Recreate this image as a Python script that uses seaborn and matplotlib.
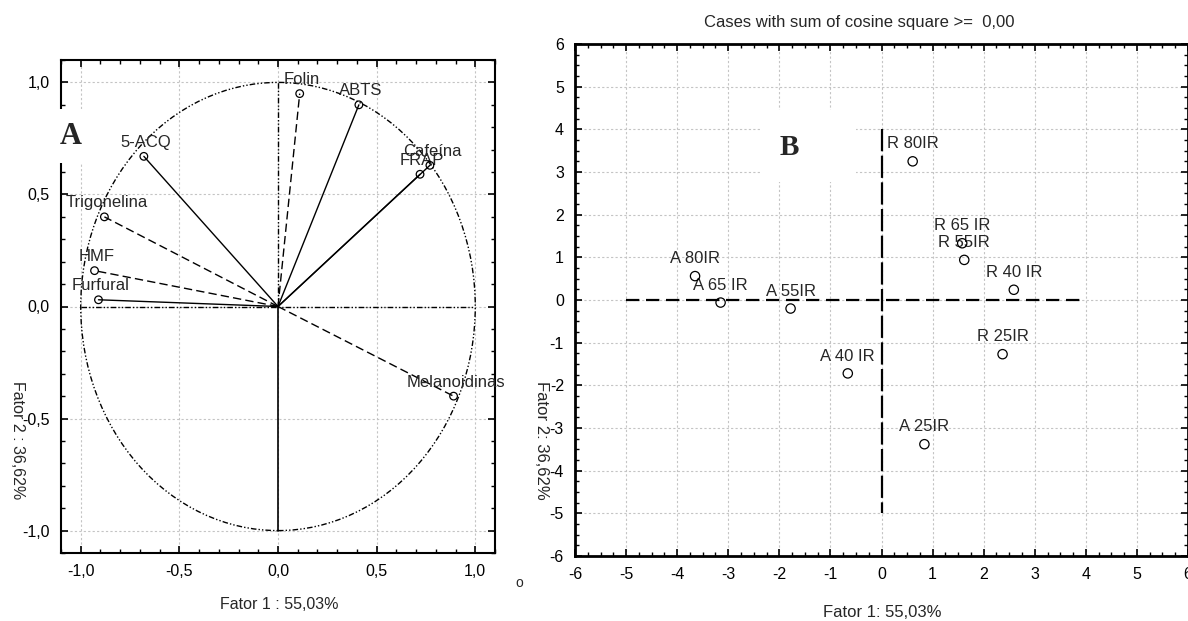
import matplotlib
matplotlib.use('Agg')
import matplotlib.pyplot as plt
import seaborn as sns
from matplotlib.patches import Circle, Rectangle
from matplotlib.ticker import MultipleLocator, FuncFormatter

# --- Painel A: cargas das variaveis (circulo de correlacao) ---
variaveis = ['Folin', 'ABTS', 'Cafeína', 'FRAP', '5-ACQ', 'Trigonelina', 'HMF', 'Furfural', 'Melanoidinas']
fator1_var = [0.11, 0.41, 0.77, 0.72, -0.68, -0.88, -0.93, -0.91, 0.89]
fator2_var = [0.95, 0.90, 0.63, 0.59, 0.67, 0.40, 0.16, 0.03, -0.40]
estilo_var = ['--', '-', '-', '-', '-', '--', '--', '-', '--']

# --- Painel B: escores das amostras ---
amostras = ['R 80IR', 'R 65 IR', 'R 55IR', 'R 40 IR', 'R 25IR',
            'A 80IR', 'A 65 IR', 'A 55IR', 'A 40 IR', 'A 25IR']
fator1_amo = [0.61, 1.58, 1.62, 2.59, 2.37, -3.65, -3.15, -1.78, -0.66, 0.84]
fator2_amo = [3.25, 1.33, 0.94, 0.24, -1.27, 0.56, -0.06, -0.20, -1.72, -3.38]

sns.set_theme(style='white')
plt.rcParams['font.family'] = ['Liberation Sans', 'DejaVu Sans']
plt.rcParams['axes.unicode_minus'] = False

W, H = 1188, 621
fig = plt.figure(figsize=(W / 100, H / 100), dpi=100)
ax1 = fig.add_axes([61 / W, 1 - 553 / H, 434 / W, 493 / H])
ax2 = fig.add_axes([575 / W, 1 - 556 / H, 613 / W, 512 / H])

virgula = FuncFormatter(lambda v, p: ('%.1f' % (0.0 if abs(v) < 1e-9 else v)).replace('.', ','))
dash_dot_dot = (0, (4, 1.5, 1, 1.5, 1, 1.5))


def estilo_eixo(ax, major, minor, lw):
    ax.xaxis.set_major_locator(MultipleLocator(major))
    ax.yaxis.set_major_locator(MultipleLocator(major))
    ax.xaxis.set_minor_locator(MultipleLocator(minor))
    ax.yaxis.set_minor_locator(MultipleLocator(minor))
    ax.tick_params(which='both', direction='in', top=True, right=True,
                   bottom=True, left=True, colors='black', labelsize=11.5, pad=8)
    ax.tick_params(which='major', length=5, width=1.2)
    ax.tick_params(which='minor', length=3, width=1)
    ax.grid(True, which='major', color='#c4c4c4', linestyle=(0, (2, 2)), linewidth=0.8)
    ax.set_axisbelow(True)
    for s in ax.spines.values():
        s.set_color('black')
        s.set_linewidth(lw)


# ---------- Painel A ----------
ax1.set_xlim(-1.1, 1.1)
ax1.set_ylim(-1.1, 1.1)
estilo_eixo(ax1, 0.5, 0.1, 1.5)
ax1.xaxis.set_major_formatter(virgula)
ax1.yaxis.set_major_formatter(virgula)

ax1.add_patch(Circle((0, 0), 1, fill=False, color='black', lw=1.0, linestyle=dash_dot_dot))
ax1.plot([-1, 1], [0, 0], color='black', lw=1.0, linestyle=dash_dot_dot)
ax1.plot([0, 0], [0, 1], color='black', lw=1.0, linestyle=dash_dot_dot)
ax1.plot([0, 0], [0, -1], color='black', lw=1.2)

for x, y, ls in zip(fator1_var, fator2_var, estilo_var):
    ax1.plot([0, x], [0, y], color='black', lw=1.0, linestyle=ls,
             dashes=(6, 3) if ls == '--' else (None, None))

sns.scatterplot(x=fator1_var, y=fator2_var, ax=ax1, marker='o', s=30,
                color='none', edgecolor='black', linewidth=0.9, zorder=4)
for nome, x, y in zip(variaveis, fator1_var, fator2_var):
    ax1.annotate(nome, (x, y), xytext=(1.5, 10), textcoords='offset points',
                 ha='center', va='center', fontsize=12)

ax1.set_xlabel('Fator 1 : 55,03%', fontsize=11.5, va='center')
ax1.set_ylabel('Fator 2 : 36,62%', fontsize=11.5, rotation=270, va='center', ha='center')
ax1.xaxis.set_label_coords(0.502, -0.105)
ax1.yaxis.set_label_coords(-0.10, 0.229)

ax1.text(0.022, 0.845, 'A', transform=ax1.transAxes, ha='center', va='center',
         fontsize=22, fontweight='bold', family='Liberation Serif', zorder=5,
         bbox=dict(facecolor='white', edgecolor='none', pad=9), clip_on=False)

# ---------- Painel B ----------
ax2.set_xlim(-6, 6)
ax2.set_ylim(-6, 6)
estilo_eixo(ax2, 1, 0.25, 2)

ax2.add_patch(Rectangle((0.301, 0.730), 0.158, 0.141, transform=ax2.transAxes,
                        facecolor='white', edgecolor='none', zorder=1))
ax2.text(0.349, 0.797, 'B', transform=ax2.transAxes, ha='center', va='center',
         fontsize=21, fontweight='bold', family='Liberation Serif', zorder=2)

ax2.plot([-5, 4], [0, 0], color='black', lw=1.6, dashes=(6, 3))
ax2.plot([0, 0], [4, -5], color='black', lw=1.6, dashes=(10, 2))

sns.scatterplot(x=fator1_amo, y=fator2_amo, ax=ax2, marker='o', s=45,
                color='none', edgecolor='black', linewidth=0.9, zorder=4)
for nome, x, y in zip(amostras, fator1_amo, fator2_amo):
    ax2.annotate(nome, (x, y), xytext=(0, 12.5), textcoords='offset points',
                 ha='center', va='center', fontsize=12)

ax2.set_xlabel('Fator 1: 55,03%', fontsize=12, va='center')
ax2.set_ylabel('Fator 2: 36,62%', fontsize=12, rotation=270, va='center', ha='center')
ax2.xaxis.set_label_coords(0.502, -0.111)
ax2.yaxis.set_label_coords(-0.0546, 0.225)
ax2.text(0.464, 1 + 22 / 512, 'Cases with sum of cosine square >=  0,00',
         transform=ax2.transAxes, ha='center', va='center', fontsize=12)

fig.text(519 / W, 1 - 583 / H, 'o', ha='center', va='center', fontsize=10)

fig.savefig('out.png', dpi=100)
